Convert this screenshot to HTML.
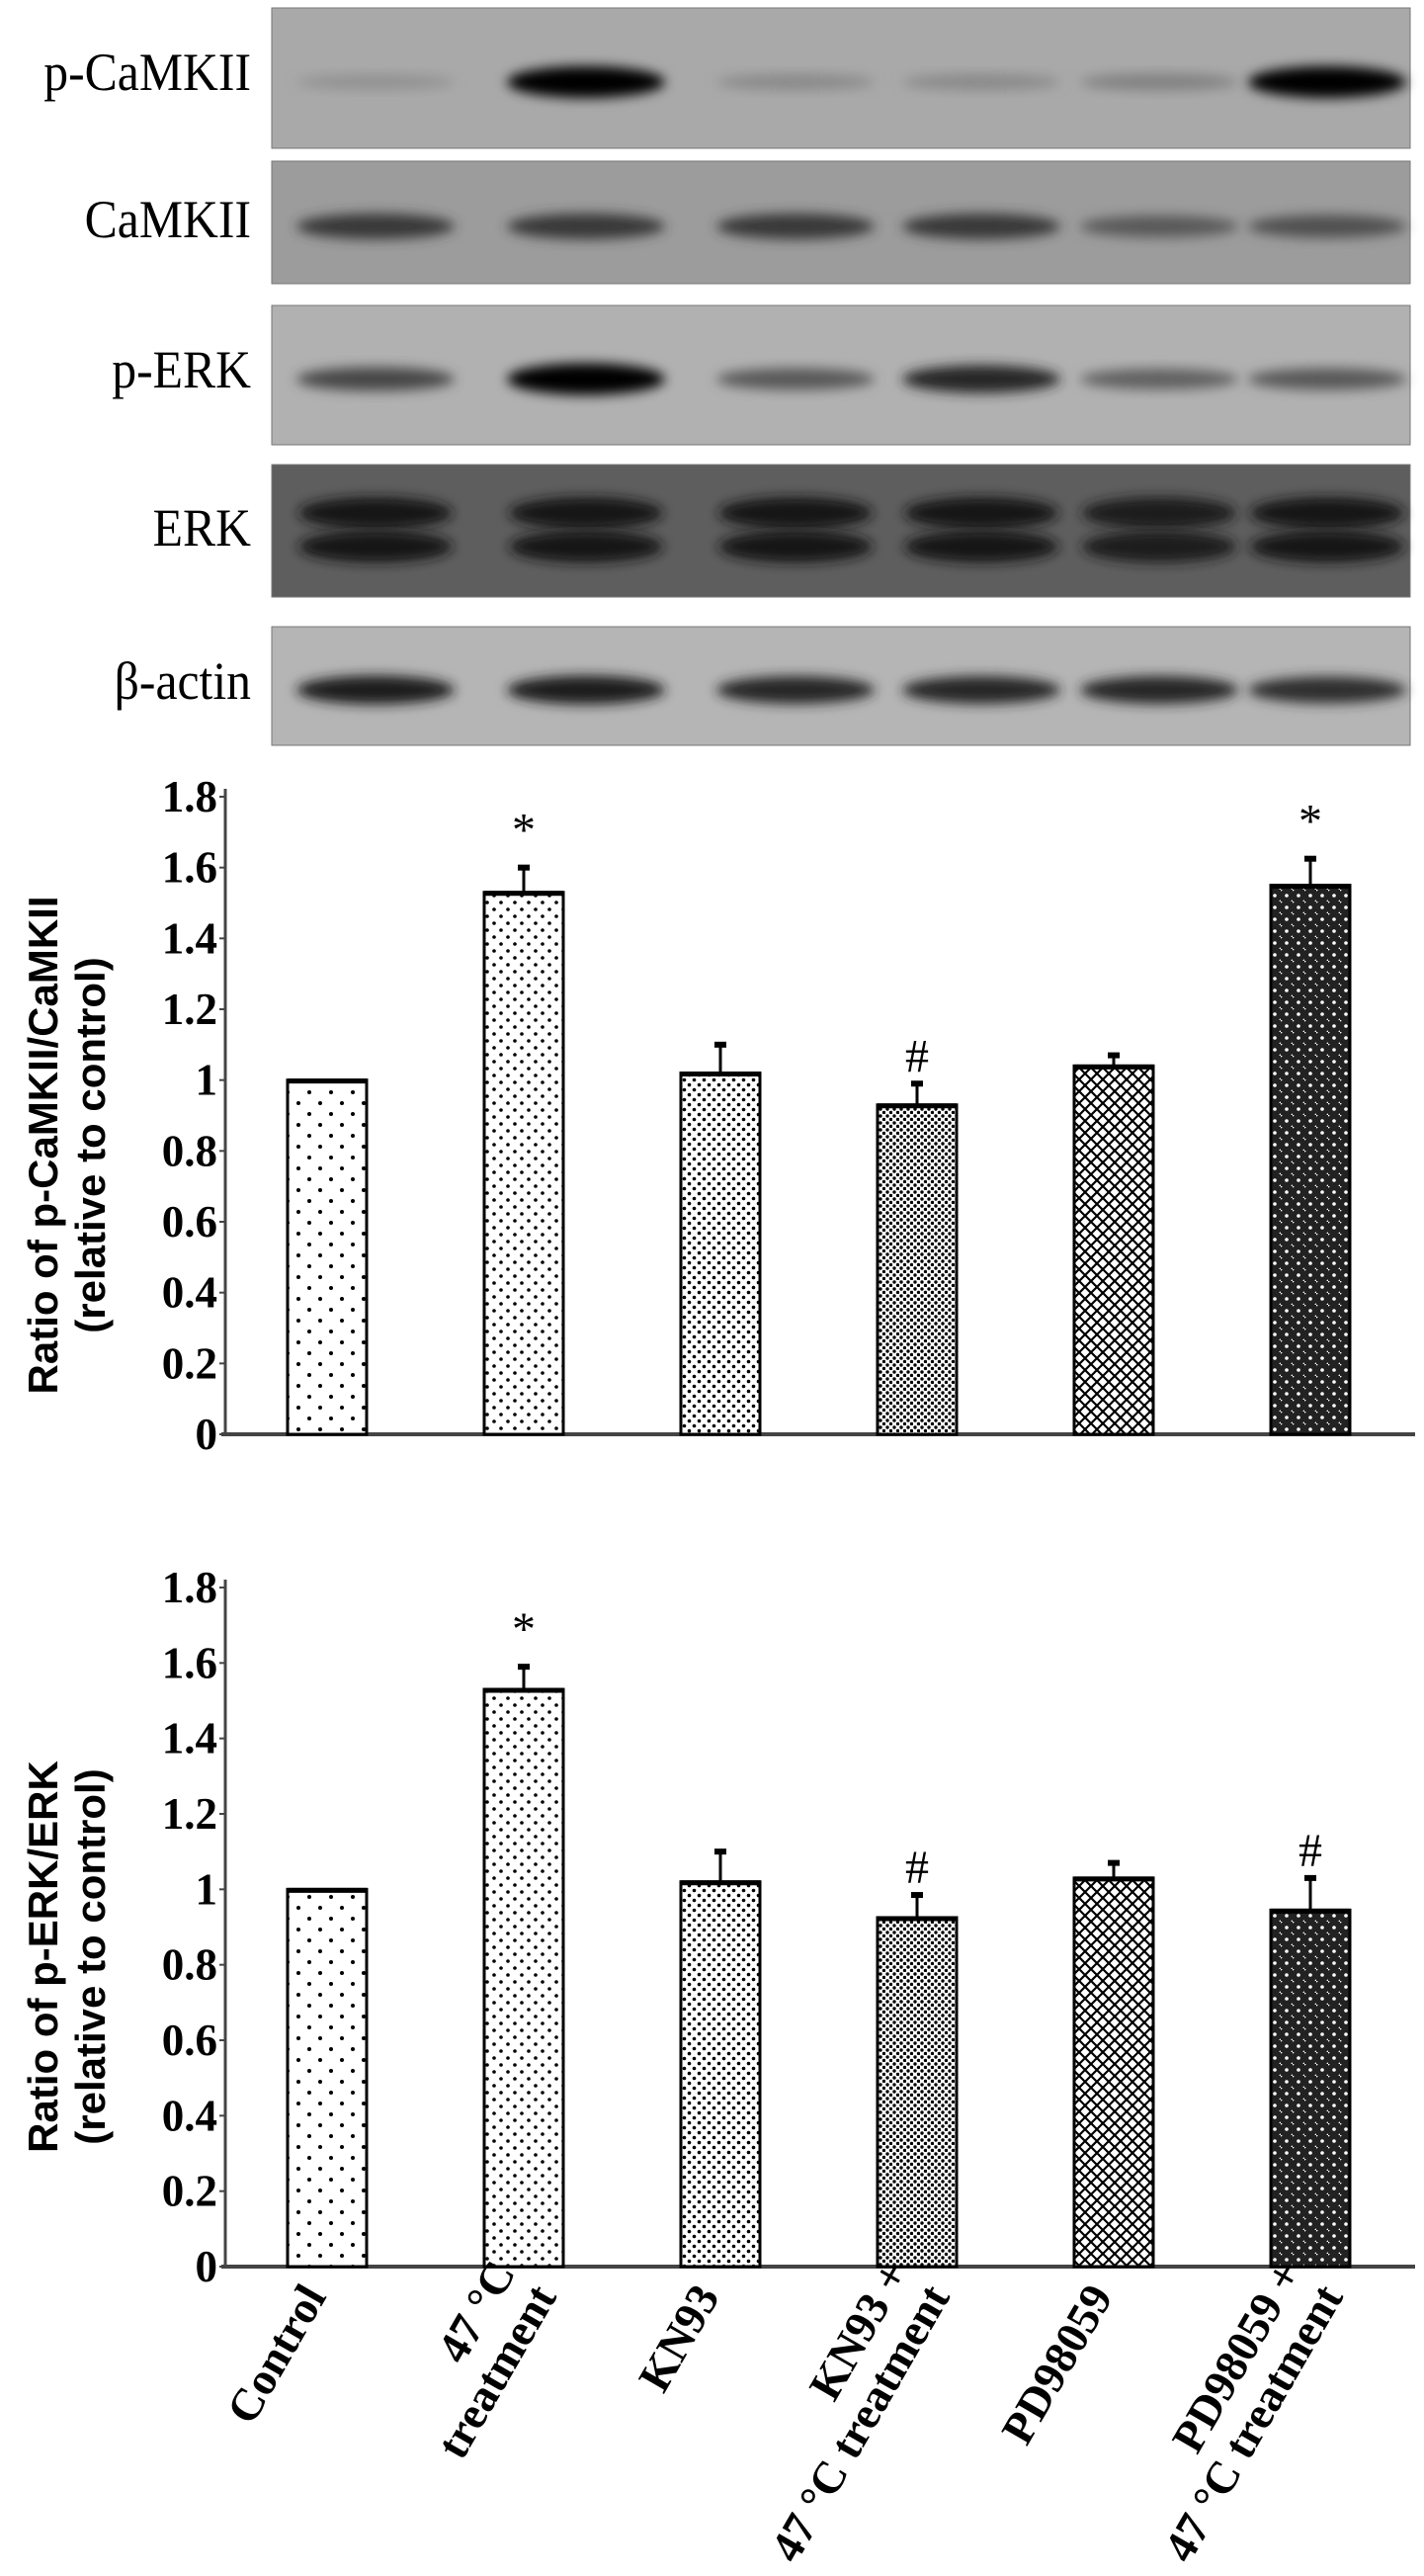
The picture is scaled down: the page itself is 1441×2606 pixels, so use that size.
<!DOCTYPE html>
<html><head><meta charset="utf-8">
<style>
body{margin:0;background:#fff;width:1441px;height:2606px;overflow:hidden;font-family:"Liberation Serif",serif}
.lbl{position:absolute;font-family:"Liberation Serif",serif;font-size:54px;text-align:right;width:250px;left:4px;transform-origin:right center;transform:scaleX(0.92)}
</style></head>
<body>
<div class="lbl" style="top:42px">p-CaMKII</div>
<div class="lbl" style="top:191px">CaMKII</div>
<div class="lbl" style="top:343px">p-ERK</div>
<div class="lbl" style="top:503px">ERK</div>
<div class="lbl" style="top:658px">β-actin</div>
<svg id="svg" width="1441" height="2606" style="position:absolute;left:0;top:0">
<defs>
<filter id="bl" x="-20%" y="-50%" width="140%" height="200%"><feGaussianBlur stdDeviation="6"/></filter>
<pattern id="p0" width="22" height="22" patternUnits="userSpaceOnUse"><rect width="22" height="22" fill="#fff"/><circle cx="5" cy="5" r="2" fill="#000"/><circle cx="16" cy="16" r="2" fill="#000"/></pattern>
<pattern id="p1" width="14" height="14" patternUnits="userSpaceOnUse"><rect width="14" height="14" fill="#fff"/><circle cx="3" cy="3" r="1.8" fill="#000"/><circle cx="10" cy="10" r="1.8" fill="#000"/></pattern>
<pattern id="p2" width="10" height="10" patternUnits="userSpaceOnUse"><rect width="10" height="10" fill="#fff"/><circle cx="2.5" cy="2.5" r="1.8" fill="#000"/><circle cx="7.5" cy="7.5" r="1.8" fill="#000"/></pattern>
<pattern id="p3" width="7" height="7" patternUnits="userSpaceOnUse"><rect width="7" height="7" fill="#fff"/><circle cx="2" cy="2" r="1.7" fill="#000"/><circle cx="5.5" cy="5.5" r="1.7" fill="#000"/></pattern>
<pattern id="p4" width="12" height="12" patternUnits="userSpaceOnUse"><rect width="12" height="12" fill="#fff"/><path d="M0 0L12 12M12 0L0 12" stroke="#000" stroke-width="2.2"/></pattern>
<pattern id="p5" width="12" height="12" patternUnits="userSpaceOnUse"><rect width="12" height="12" fill="#222"/><circle cx="6" cy="6" r="1.8" fill="#fff"/><circle cx="0" cy="0" r="1.5" fill="#fff"/><circle cx="12" cy="12" r="1.5" fill="#fff"/></pattern>
</defs>
<g id="blots"></g>
<g id="c1"></g>
<g id="c2"></g>
</svg>
<script>
const categories = [["Control"],["47 °C","treatment"],["KN93"],["KN93 +","47 °C treatment"],["PD98059"],["PD98059 +","47 °C treatment"]];
const camkValues = [1.0,1.53,1.02,0.93,1.04,1.55];
const camkErrors = [0,0.07,0.08,0.06,0.03,0.075];
const camkMarks = ["","*","","#","","*"];
const erkValues = [1.0,1.53,1.02,0.925,1.03,0.945];
const erkErrors = [0,0.06,0.08,0.06,0.04,0.085];
const erkMarks = ["","*","","#","","#"];
const ticks = [0,0.2,0.4,0.6,0.8,1,1.2,1.4,1.6,1.8];
const tickLabels = ["0","0.2","0.4","0.6","0.8","1","1.2","1.4","1.6","1.8"];
const bandPCaMKII=[0.15,1,0.2,0.2,0.25,1];
const bandCaMKII=[0.7,0.7,0.7,0.7,0.5,0.55];
const bandPERK=[0.6,1,0.5,0.8,0.45,0.5];
const bandERK=[0.9,0.95,0.9,0.9,0.85,0.9];
const bandActin=[0.85,0.85,0.8,0.8,0.8,0.75];

const NS="http://www.w3.org/2000/svg";
function mk(t,a,p){const e=document.createElementNS(NS,t);for(const k in a)e.setAttribute(k,a[k]);p.appendChild(e);return e;}
const laneX=[380,593,805,993,1173,1343];
const blots=document.getElementById('blots');
const panels=[[8,142,'#a9a9a9',bandPCaMKII,'blot-p-camkii',1],[163,124,'#9c9c9c',bandCaMKII,'blot-camkii',1],[309,141,'#b1b1b1',bandPERK,'blot-p-erk',1],[470,134,'#5e5e5e',bandERK,'blot-erk',2],[634,120,'#b5b5b5',bandActin,'blot-beta-actin',1]];
panels.forEach(p=>{
  const g=mk('g',{},blots);
  
  
  mk('rect',{x:275,y:p[0],width:1152,height:p[1],fill:p[2],stroke:'#777','stroke-width':1},g);
  const cy=p[0]+p[1]/2;
  p[3].forEach((v,i)=>{
    const c=Math.round(p[2]==='#5e5e5e'?60-40*v:170-165*v);
    const col='rgb('+c+','+c+','+c+')';
    if(p[5]===2){
      mk('ellipse',{cx:laneX[i],cy:cy-18,rx:78,ry:16,fill:col,filter:'url(#bl)'},g);
      mk('ellipse',{cx:laneX[i],cy:cy+16,rx:78,ry:16,fill:col,filter:'url(#bl)'},g);
    } else {
      mk('ellipse',{cx:laneX[i],cy:cy+4,rx:80,ry:6+10*v,fill:col,filter:'url(#bl)'},g);
    }
  });
});

function chart(gid,y0,y18,vals,errs,marks,title,name,showX){
  const g=document.getElementById(gid);
  
  
  const ax=228, xEnd=1432;
  const ys=v=>y0-(v/1.8)*(y0-y18);
  const xs=i=>331+i*199;
  mk('line',{x1:ax,y1:y18-8,x2:ax,y2:y0,stroke:'#444','stroke-width':3},g);
  mk('line',{x1:ax-4,y1:y0,x2:xEnd,y2:y0,stroke:'#444','stroke-width':4},g);
  ticks.forEach((t,i)=>{
    mk('line',{x1:ax-6,y1:ys(t),x2:ax,y2:ys(t),stroke:'#444','stroke-width':2},g);
    const tx=mk('text',{x:ax-8,y:ys(t)+15,'text-anchor':'end','font-family':'Liberation Serif','font-weight':'bold','font-size':45},g);
    
    
    tx.textContent=tickLabels[i];
  });
  vals.forEach((v,i)=>{
    const x=xs(i),w=80;
    if(errs[i]>0){
      mk('line',{x1:x,y1:ys(v),x2:x,y2:ys(v+errs[i]),stroke:'#000','stroke-width':3},g);
      mk('line',{x1:x-6,y1:ys(v+errs[i]),x2:x+6,y2:ys(v+errs[i]),stroke:'#000','stroke-width':6},g);
    }
    const r=mk('rect',{x:x-w/2,y:ys(v),width:w,height:y0-ys(v),fill:'url(#p'+i+')',stroke:'#000','stroke-width':3},g);
    
    
    mk('line',{x1:x-w/2,y1:ys(v)+1,x2:x+w/2,y2:ys(v)+1,stroke:'#000','stroke-width':5},g);
    if(marks[i]){
      const m=mk('text',{x:x,y:ys(v+errs[i])-(marks[i]=='*'?22:12),'text-anchor':'middle','font-family':'Liberation Serif','font-size':marks[i]=='*'?48:48},g);
      
      
      m.textContent=marks[i];
    }
  });
  const cy=(y0+y18)/2+30;
  const t=mk('text',{transform:'translate(58,'+cy+') rotate(-90)','text-anchor':'middle','font-family':'Liberation Sans','font-weight':'bold','font-size':42},g);
  
  
  mk('tspan',{x:0,y:0},t).textContent=title;
  mk('tspan',{x:0,y:48},t).textContent='(relative to control)';
  if(showX){
    categories.forEach((c,i)=>{
      const lx=xs(i)+(c.length>1?34:0), ly=y0+30;
      const tx=mk('text',{transform:'translate('+lx+','+ly+') rotate(-60)','text-anchor':'end','font-family':'Liberation Serif','font-weight':'bold','font-size':46},g);
      
      
      c.forEach((line,k)=>{mk('tspan',{x:0,y:(k===0&&c.length>1?-48:0)},tx).textContent=line;});
    });
  }
}
chart('c1',1451,806,camkValues,camkErrors,camkMarks,'Ratio of p-CaMKII/CaMKII','chart-p-camkii',false);
chart('c2',2293,1606,erkValues,erkErrors,erkMarks,'Ratio of p-ERK/ERK','chart-p-erk',true);
</script>
</body></html>
